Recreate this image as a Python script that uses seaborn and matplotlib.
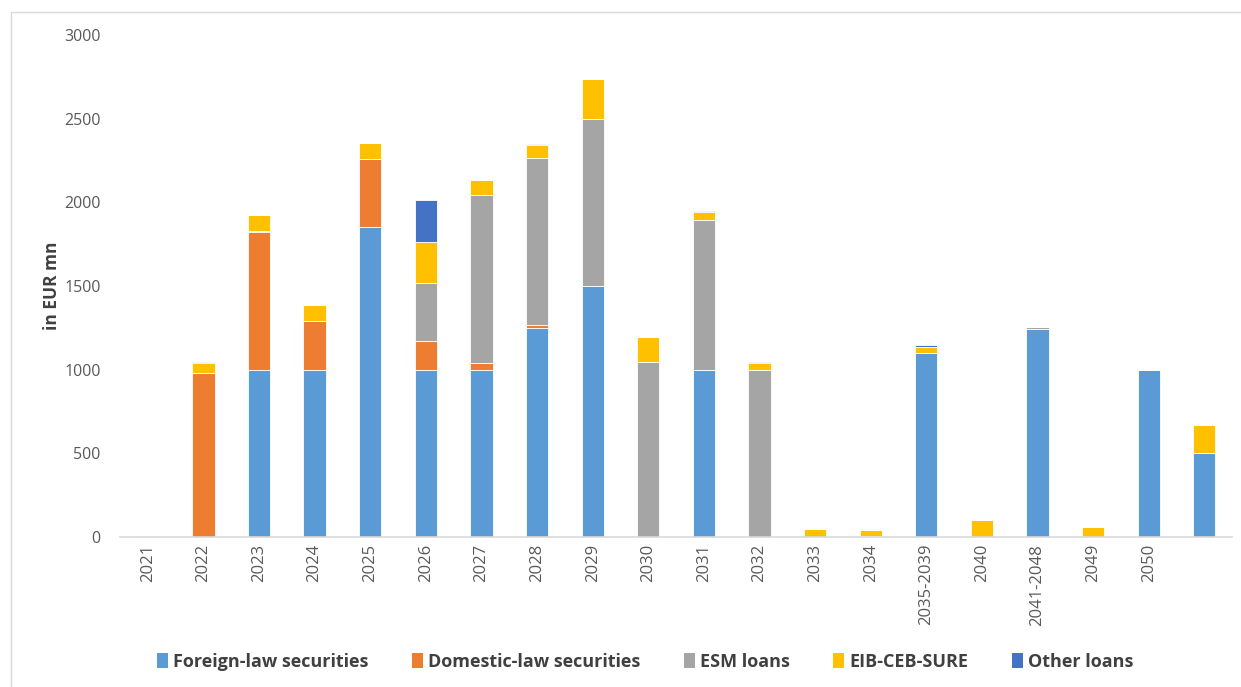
# Perfil de vencimientos de la deuda
import matplotlib
matplotlib.use('Agg')
import matplotlib.pyplot as plt
from matplotlib.patches import Patch, Rectangle
import seaborn as sns
import pandas as pd
import numpy as np

years = ['2021', '2022', '2023', '2024', '2025', '2026', '2027', '2028', '2029', '2030',
         '2031', '2032', '2033', '2034', '2035-2039', '2040', '2041-2048', '2049', '2050', '']
foreign = [0, 0, 1000, 1000, 1850, 1000, 1000, 1250, 1500, 0,
           1000, 0, 0, 0, 1100, 0, 1245, 0, 1000, 500]
domestic = [0, 980, 823, 291, 409, 171, 42, 15, 0, 0,
            0, 0, 0, 0, 0, 0, 0, 0, 0, 0]
esm = [0, 0, 5, 0, 0, 347, 1004, 1000, 1000, 1048,
       895, 1000, 0, 4, 0, 0, 8, 0, 0, 0]
eib = [3, 60, 96, 96, 96, 245, 88, 80, 237, 146,
       50, 42, 48, 38, 36, 101, 0, 58, 0, 169]
other = [2, 8, 0, 0, 0, 251, 0, 6, 2, 0,
         6, 4, 0, 0, 10, 0, 0, 0, 0, 0]

series = [
    ('Foreign-law securities', foreign, '#5B9BD5'),
    ('Domestic-law securities', domestic, '#ED7D31'),
    ('ESM loans', esm, '#A5A5A5'),
    ('EIB-CEB-SURE', eib, '#FFC000'),
    ('Other loans', other, '#4472C4'),
]

sns.set_style('white')
plt.rcParams['font.family'] = ['Open Sans', 'DejaVu Sans']

fig = plt.figure(figsize=(12.41, 6.87), dpi=100)
ax = fig.add_axes([0.0967, 0.2183, 0.8961, 0.7307])

bottom = np.zeros(len(years))
for nombre, vals, col in series:
    df = pd.DataFrame({'Periodo': years, 'Valor': vals})
    sns.barplot(data=df, x='Periodo', y='Valor', order=years, color=col,
                width=0.4, bottom=bottom.copy(), edgecolor='white',
                linewidth=0.6, saturation=1, ax=ax, errorbar=None)
    bottom += np.array(vals, dtype=float)

ax.set_xlim(-0.5, len(years) - 0.5)
ax.set_ylim(0, 3000)
ax.set_yticks(range(0, 3001, 500))
ax.set_xlabel('')
ax.set_ylabel('in EUR mn', fontsize=12.5, fontweight='bold', color='#404040', labelpad=2)
ax.tick_params(axis='both', length=0, colors='#595959')
ax.tick_params(axis='x', rotation=90, pad=5, labelsize=12)
ax.tick_params(axis='y', pad=14, labelsize=11.5)

for s in ['top', 'right', 'left']:
    ax.spines[s].set_visible(False)
ax.spines['bottom'].set_color('#D9D9D9')
ax.spines['bottom'].set_linewidth(1.2)

handles = [Patch(facecolor=c, edgecolor='none', label=n) for n, _, c in series]
fig.legend(handles=handles, loc='center', bbox_to_anchor=(0.52, 0.037), ncol=5,
           frameon=False, prop={'size': 13, 'weight': 'bold'}, labelcolor='#404040',
           handlelength=0.6, handleheight=0.9, handletextpad=0.3, columnspacing=2.4)

fig.patches.append(Rectangle((0.009, -0.01), 1.0, 0.993, transform=fig.transFigure,
                             fill=False, edgecolor='#D9D9D9', linewidth=1))

fig.savefig('out.png', dpi=100)
